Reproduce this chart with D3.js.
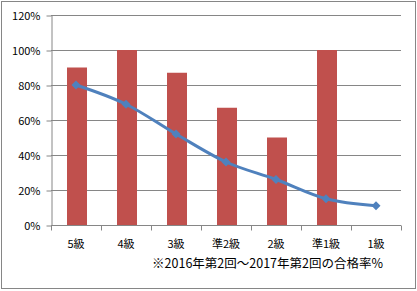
<!doctype html>
<html lang='ja'>
<head>
    <meta charset='UTF-8'>
    <title>合格率</title>
    <style>
        body{ margin: 0; background: #fff; }
        text{ font-family: 'Noto Sans CJK JP', 'Noto Sans', sans-serif; font-size: 11px; fill: #000; }
        .grid line{ stroke: #868686; stroke-width: 1px; }
        .axis path, .axis line{ fill: none; stroke: #868686; }
        .line{ fill: none; stroke: #4F81BD; stroke-width: 3px; }
        .note{ font-size: 12.5px; }
    </style>
</head>
<body>
<script src='https://cdn.jsdelivr.net/npm/d3@7'></script>
<script>
  const categories = ['5級', '4級', '3級', '準2級', '2級', '準1級', '1級']
  const barValues = [90, 100, 87, 67, 50, 100, 0]
  const lineValues = [80, 69, 52, 36, 26, 15, 11]
  const yTicks = [0, 20, 40, 60, 80, 100, 120]
  const note = '※2016年第2回～2017年第2回の合格率%'

  const W = 417, H = 291
  const plot = {left: 51, right: 401, top: 15, bottom: 225}

  const svg = d3.select('body').append('svg')
    .attr('width', W).attr('height', H)

  svg.append('rect')
    .attr('x', 1.5).attr('y', 1.5)
    .attr('width', 414).attr('height', 287)
    .attr('fill', '#fff').attr('stroke', '#868686')

  const x = d3.scaleBand().domain(categories).range([plot.left, plot.right])
  const y = d3.scaleLinear().domain([0, 120]).range([plot.bottom, plot.top])

  // gridlines
  svg.append('g').attr('class', 'grid')
    .selectAll('line').data(yTicks.slice(1)).join('line')
    .attr('x1', plot.left).attr('x2', plot.right)
    .attr('y1', d => Math.round(y(d)) + 0.5).attr('y2', d => Math.round(y(d)) + 0.5)

  // bars
  const bw = 20
  svg.selectAll('.bar').data(barValues).join('rect')
    .attr('class', 'bar')
    .attr('x', (d, i) => x(categories[i]) + x.bandwidth() / 2 - bw / 2 + 1)
    .attr('y', d => y(d))
    .attr('width', bw)
    .attr('height', d => plot.bottom - y(d))
    .attr('fill', '#C0504D')

  // y axis
  const yAxis = d3.axisLeft(y).tickValues(yTicks).tickFormat(d => d + '%')
    .tickSizeInner(5).tickSizeOuter(0).tickPadding(6)
  svg.append('g').attr('class', 'axis')
    .attr('transform', `translate(${plot.left + 0.5},0.5)`)
    .call(yAxis)
    .call(g => g.selectAll('text').attr('font-family', null).attr('font-size', null))

  // x axis with ticks at band boundaries
  const xg = svg.append('g').attr('class', 'axis')
    .attr('transform', `translate(0,${plot.bottom + 0.5})`)
  xg.append('line').attr('x1', plot.left).attr('x2', plot.right)
  xg.selectAll('.tk').data(categories.concat(['end'])).join('line')
    .attr('class', 'tk')
    .attr('x1', (d, i) => plot.left + i * x.bandwidth() + 0.5)
    .attr('x2', (d, i) => plot.left + i * x.bandwidth() + 0.5)
    .attr('y1', 0).attr('y2', 5)
  xg.selectAll('text').data(categories).join('text')
    .attr('x', d => x(d) + x.bandwidth() / 2)
    .attr('y', 22)
    .attr('text-anchor', 'middle')
    .text(d => d)

  // line
  const line = d3.line()
    .x((d, i) => x(categories[i]) + x.bandwidth() / 2)
    .y(d => y(d))
    .curve(d3.curveMonotoneX)
  svg.append('path').datum(lineValues).attr('class', 'line').attr('d', line)

  svg.selectAll('.mk').data(lineValues).join('path')
    .attr('class', 'mk')
    .attr('transform', (d, i) => `translate(${x(categories[i]) + x.bandwidth() / 2},${y(d)})`)
    .attr('d', 'M0,-4.5L4.5,0L0,4.5L-4.5,0Z')
    .attr('fill', '#4F81BD')

  svg.append('text')
    .attr('class', 'note')
    .attr('x', 383).attr('y', 268)
    .attr('text-anchor', 'end')
    .text(note)
</script>
</body>
</html>
